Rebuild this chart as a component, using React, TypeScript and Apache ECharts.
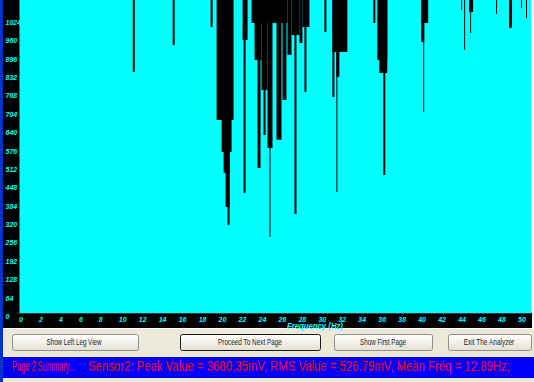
import React, { useEffect, useRef } from "react";
import * as echarts from "echarts";

// Frequency axis (Hz) and amplitude axis (mV)
const xMin = 0;
const xMax = 51.3;
const xInterval = 2;
const yMin = 0;
const yMax = 1090;
const yInterval = 64;
const yLabelTop = 1024;

// Spectrum dips: each dip is a black region hanging from the top of the plot
// down to its bottom value, between a start and an end frequency.
const dipStartHz = [
  11.4, 15.4, 19.2, 19.8, 20.3, 20.5, 20.7, 20.9, 22.4, 22.5,
  23.3, 23.6, 23.9, 24.3, 24.5, 24.9, 25.1, 25.8, 26.4,
  26.9, 27.6, 27.3, 28.1, 28.4, 28.6, 30.6, 31.4, 31.4, 31.8,
  31.8, 32.4, 35.5, 35.9, 36.1, 36.5, 40.3, 40.3, 40.5, 44.3,
  44.6, 45.1, 45.2, 47.8, 49.1, 50.3, 50.8,
];
const dipEndHz = [
  11.6, 15.6, 19.4, 21.5, 21.3, 21.1, 21.1, 21.1, 22.9, 22.7,
  26.9, 24.3, 24.2, 24.9, 24.7, 25.4, 25.2, 26.3, 26.8,
  27.3, 27.8, 28.1, 28.4, 29.1, 28.8, 30.8, 32.9, 31.6, 32.1,
  31.9, 32.6, 35.7, 36.9, 36.9, 36.7, 41.0, 40.6, 40.6, 44.4,
  44.7, 45.5, 45.3, 47.9, 49.4, 50.4, 50.9,
];
const dipBottom = [
  839, 933, 996, 672, 561, 488, 369, 306, 951, 418,
  1010, 881, 505, 777, 620, 575, 265, 603, 742,
  899, 345, 968, 940, 996, 770, 979, 909, 752, 822,
  421, 944, 1010, 881, 836, 481, 1010, 944, 700, 1055,
  916, 1048, 975, 1041, 993, 1062, 1027,
];

const axisTitle = "Frequency (Hz)";
const buttonLabels = ["Show Left Leg View", "Proceed To Next Page", "Show First Page", "Exit The Analyzer"];
const summaryHead = "Page 2 Summary...";
const summaryBody = "Sensor2: Peak Value = 3680.35mV, RMS Value = 526.79mV, Mean Freq = 12.89Hz;";

const W = 534;
const H = 382;
const GRID_LEFT = 19;
const GRID_RIGHT_EDGE = 532;
const GRID_BOTTOM_EDGE = 313;

function fitScale(text: string, font: string, target: number): number {
  try {
    const ctx = document.createElement("canvas").getContext("2d");
    if (!ctx) return 1;
    ctx.font = font;
    const w = ctx.measureText(text).width;
    return w > 0 ? target / w : 1;
  } catch (e) {
    return 1;
  }
}

export default function App() {
  const ref = useRef<HTMLDivElement>(null);

  useEffect(() => {
    if (!ref.current) return;
    const chart = echarts.init(ref.current, null, { renderer: "svg" });

    const dipData = dipStartHz.map((s, i) => [s, dipEndHz[i], dipBottom[i]]);

    const btnFont = "9px 'Liberation Sans', Arial, sans-serif";
    const btnBoxes = [
      { x: 12, w: 126, cx: 74, tw: 55, def: false },
      { x: 180, w: 140, cx: 250, tw: 64, def: true },
      { x: 334, w: 98, cx: 383, tw: 46, def: false },
      { x: 448, w: 83, cx: 489, tw: 51, def: false },
    ];
    const buttons: any[] = [];
    btnBoxes.forEach((b, i) => {
      buttons.push({
        type: "rect",
        shape: { x: b.x + 0.5, y: 334.5, width: b.w, height: 16, r: 2 },
        style: {
          fill: new echarts.graphic.LinearGradient(0, 0, 0, 1, [
            { offset: 0, color: "#FFFFFF" },
            { offset: 1, color: "#E3E0D3" },
          ]),
          stroke: b.def ? "#1A1A1A" : "#8E8F8F",
          lineWidth: 1,
        },
      });
      buttons.push({
        type: "text",
        x: b.cx,
        y: 342.5,
        scaleX: fitScale(buttonLabels[i], btnFont, b.tw),
        style: {
          text: buttonLabels[i],
          font: btnFont,
          fill: "#222222",
          align: "center",
          verticalAlign: "middle",
        },
      });
    });

    const redFont = "15px 'Liberation Sans', Arial, sans-serif";
    const titleFont = "italic bold 9px 'Liberation Sans', Arial, sans-serif";

    const option: any = {
      animation: false,
      backgroundColor: "#ECE9D8",
      grid: {
        left: GRID_LEFT,
        right: W - GRID_RIGHT_EDGE,
        top: 0,
        bottom: H - GRID_BOTTOM_EDGE,
        show: true,
        backgroundColor: "#00FFFF",
        borderWidth: 0,
      },
      xAxis: {
        type: "value",
        min: xMin,
        max: xMax,
        interval: xInterval,
        axisLine: { show: true, lineStyle: { color: "#7A3A3A", type: "dotted", width: 1 } },
        axisTick: { show: false },
        splitLine: { show: false },
        axisLabel: {
          color: "#00FFFF",
          fontSize: 7,
          fontStyle: "italic",
          fontWeight: "bold",
          fontFamily: "'Liberation Sans Narrow', 'Liberation Sans', sans-serif",
          align: "left",
          margin: 3,
          formatter: (v: number) => (Number.isInteger(v) && v <= 50 ? String(v) : ""),
        },
      },
      yAxis: {
        type: "value",
        min: yMin,
        max: yMax,
        interval: yInterval,
        axisLine: { show: true, lineStyle: { color: "#7A3A3A", type: "dotted", width: 1 } },
        axisTick: { show: false },
        splitLine: { show: false },
        axisLabel: {
          color: "#00FFFF",
          fontSize: 7,
          fontStyle: "italic",
          fontWeight: "bold",
          fontFamily: "'Liberation Sans Narrow', 'Liberation Sans', sans-serif",
          align: "left",
          verticalAlign: "top",
          margin: 13.5,
          formatter: (v: number) => (v % yInterval === 0 && v <= yLabelTop ? String(v) : ""),
        },
      },
      series: [
        {
          type: "custom",
          clip: true,
          data: dipData,
          encode: { x: [0, 1], y: 2 },
          renderItem: (params: any, api: any) => {
            const p0 = api.coord([api.value(0), yMax]);
            const p1 = api.coord([api.value(1), api.value(2)]);
            return {
              type: "rect",
              shape: { x: p0[0], y: p0[1], width: Math.max(1, p1[0] - p0[0]), height: p1[1] - p0[1] },
              style: { fill: "#000000" },
            };
          },
        },
      ],
      graphic: [
        { type: "rect", z: -1, shape: { x: 0, y: 0, width: 3, height: H }, style: { fill: "#0033CC" } },
        { type: "rect", z: -1, shape: { x: 3, y: 0, width: GRID_LEFT - 3, height: GRID_BOTTOM_EDGE }, style: { fill: "#000000" } },
        { type: "rect", z: -1, shape: { x: 3, y: GRID_BOTTOM_EDGE, width: GRID_RIGHT_EDGE - 3, height: 15 }, style: { fill: "#000000" } },
        { type: "rect", z: -1, shape: { x: GRID_RIGHT_EDGE, y: 0, width: W - GRID_RIGHT_EDGE, height: 328 }, style: { fill: "#F4F4F4" } },
        { type: "rect", z: -1, shape: { x: 3, y: 328, width: W - 3, height: 1 }, style: { fill: "#FFFFFF" } },
        {
          type: "text",
          x: 315,
          y: 326,
          scaleX: fitScale(axisTitle, titleFont, 56),
          style: { text: axisTitle, font: titleFont, fill: "#00FFFF", align: "center", verticalAlign: "middle" },
        },
        ...buttons,
        { type: "rect", shape: { x: 3, y: 357, width: W - 3, height: 21 }, style: { fill: "#0000FF" } },
        {
          type: "text",
          x: 12,
          y: 366,
          scaleX: fitScale(summaryHead, redFont, 63),
          style: { text: summaryHead, font: redFont, fill: "#FF0000", align: "left", verticalAlign: "middle" },
        },
        {
          type: "text",
          x: 88,
          y: 366,
          scaleX: fitScale(summaryBody, redFont, 422),
          style: { text: summaryBody, font: redFont, fill: "#FF0000", align: "left", verticalAlign: "middle" },
        },
      ],
    };

    chart.setOption(option);
    return () => chart.dispose();
  }, []);

  return (
    <div
      ref={ref}
      style={{ position: "fixed", left: 0, top: 0, width: W, height: H }}
    />
  );
}
